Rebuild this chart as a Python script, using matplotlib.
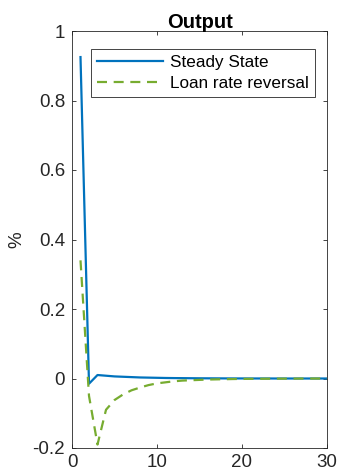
import matplotlib
matplotlib.use("Agg")
import matplotlib.pyplot as plt

plt.rcParams['font.family'] = ['Liberation Sans', 'DejaVu Sans']
plt.rcParams['axes.unicode_minus'] = False

periods = list(range(1, 31))
steady_state = [0.925, -0.015, 0.010, 0.008, 0.006, 0.005, 0.004, 0.003, 0.0025, 0.002,
                0.0015, 0.0012, 0.001, 0.0008, 0.0006, 0.0005, 0.0004, 0.0003, 0.0002, 0.0002,
                0.0001, 0.0001, 0.0001, 0.0, 0.0, 0.0, 0.0, 0.0, 0.0, 0.0]
loan_rate_reversal = [0.34, -0.05, -0.19, -0.09, -0.062, -0.046, -0.034, -0.026, -0.019, -0.014,
                      -0.011, -0.008, -0.006, -0.005, -0.004, -0.003, -0.0025, -0.002, -0.0015, -0.0012,
                      -0.001, -0.0008, -0.0006, -0.0005, -0.0004, -0.0003, -0.0002, -0.0001, -0.0001, 0.0]
xticks = [0, 10, 20, 30]
yticks = [-0.2, 0, 0.2, 0.4, 0.6, 0.8, 1]
ytick_labels = ['-0.2', '0', '0.2', '0.4', '0.6', '0.8', '1']

fig = plt.figure(figsize=(3.4, 4.74), dpi=100)
ax = fig.add_axes([72/340, 1-448/474, (327-72)/340, (448-31)/474])

ax.plot(periods, steady_state, color='#0072BD', lw=1.6, label='Steady State')
ax.plot(periods, loan_rate_reversal, color='#77AC30', lw=1.6, ls=(0, (4.5, 3)), label='Loan rate reversal')

ax.set_xlim(0, 30)
ax.set_ylim(-0.2, 1)
ax.set_xticks(xticks)
ax.set_yticks(yticks)
ax.set_yticklabels(ytick_labels)
axcol = '#262626'
ax.tick_params(direction='in', top=True, right=True, length=3, width=0.6,
               labelsize=13.5, colors=axcol, labelcolor=axcol)
ax.tick_params(axis='y', pad=5)
ax.tick_params(axis='x', pad=4)
for s in ax.spines.values():
    s.set_color(axcol)
    s.set_linewidth(0.6)
ax.set_ylabel('%', fontsize=13.5, color=axcol, labelpad=5)
ax.set_title('Output', fontsize=14.5, fontweight='bold', color='black', pad=2)

leg = ax.legend(loc='upper right', bbox_to_anchor=(315/340, 1-49/474), bbox_transform=fig.transFigure,
                fontsize=12.3, handlelength=3.9, handletextpad=0.4, borderpad=0.35,
                labelspacing=0.35, fancybox=False, framealpha=1, edgecolor=axcol, borderaxespad=0)
leg.get_frame().set_linewidth(0.6)

fig.savefig('out.png', dpi=100)
